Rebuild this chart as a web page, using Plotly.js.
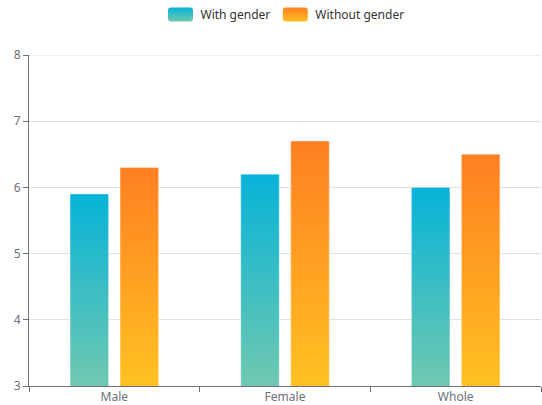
<!DOCTYPE html>
<html>
<head>
<meta charset="utf-8">
<script src="https://cdn.plot.ly/plotly-3.0.1.min.js"></script>
<style>html,body{margin:0;padding:0;background:#fff;}#chart{width:542px;height:405px;}</style>
</head>
<body>
<div id="chart"></div>
<script>
var categories = ["Male", "Female", "Whole"];
var withGender = [5.9, 6.2, 6.0];
var withoutGender = [6.3, 6.7, 6.5];
var seriesNames = ["With gender", "Without gender"];
var yTicks = [3, 4, 5, 6, 7, 8];
var yMax = 8;

var gradients = [
  {top: "#06b3d8", bottom: "#70c8b0", solid: "#3bbdc4"},
  {top: "#ff7f22", bottom: "#ffc122", solid: "#ffa023"}
];

var traces = [
  {type: "bar", name: seriesNames[0], x: categories, y: withGender,
   marker: {color: gradients[0].solid, line: {width: 0}}, hoverinfo: "none"},
  {type: "bar", name: seriesNames[1], x: categories, y: withoutGender,
   marker: {color: gradients[1].solid, line: {width: 0}}, hoverinfo: "none"}
];

var layout = {
  width: 542, height: 405,
  margin: {l: 29, r: 1, t: 55, b: 19, pad: 0},
  paper_bgcolor: "#fff", plot_bgcolor: "#fff",
  font: {family: "Noto Sans, Open Sans, sans-serif", size: 12, color: "#6e7079"},
  barmode: "group", bargap: 0.414, bargroupgap: 0.23,
  showlegend: true,
  legend: {orientation: "h", x: 0.5, xanchor: "center", y: 1, yref: "container", yanchor: "top",
           font: {size: 12, color: "#333"}, itemwidth: 30, traceorder: "normal"},
  xaxis: {type: "category", tickson: "boundaries", ticks: "outside", ticklen: 5, tickcolor: "#6e7079",
          showline: true, linecolor: "#6e7079", linewidth: 1, showgrid: false, zeroline: false,
          tickfont: {size: 12, color: "#6e7079"}, fixedrange: true},
  yaxis: {range: [3, yMax], tickvals: yTicks, ticks: "outside", ticklen: 5, tickcolor: "#6e7079",
          showline: true, linecolor: "#6e7079", linewidth: 1, gridcolor: "#e0e0e0", zeroline: false,
          tickfont: {size: 12, color: "#6e7079"}, fixedrange: true},
  shapes: [{type: "line", xref: "paper", x0: 0, x1: 1, yref: "y", y0: yMax, y1: yMax,
            line: {color: "#e0e0e0", width: 1}, layer: "below"}]
};

function applyGradients(gd) {
  var svg = gd.querySelector(".main-svg");
  var ns = "http://www.w3.org/2000/svg";
  var defs = svg.querySelector("defs");
  var plotH = gd._fullLayout.yaxis._length;
  var count = 0;
  function makeGrad(idx, units, y1, y2) {
    var g = document.createElementNS(ns, "linearGradient");
    var id = "grad" + (count++);
    g.setAttribute("id", id);
    g.setAttribute("x1", "0"); g.setAttribute("x2", "0");
    if (units) {
      g.setAttribute("gradientUnits", "userSpaceOnUse");
      g.setAttribute("y1", y1); g.setAttribute("y2", y2);
    } else {
      g.setAttribute("y1", "0"); g.setAttribute("y2", "1");
    }
    var s1 = document.createElementNS(ns, "stop");
    s1.setAttribute("offset", "0"); s1.setAttribute("stop-color", gradients[idx].top);
    var s2 = document.createElementNS(ns, "stop");
    s2.setAttribute("offset", "1"); s2.setAttribute("stop-color", gradients[idx].bottom);
    g.appendChild(s1); g.appendChild(s2);
    defs.appendChild(g);
    return id;
  }
  var traceGroups = gd.querySelectorAll(".barlayer .trace");
  traceGroups.forEach(function (tg, ti) {
    tg.querySelectorAll("path").forEach(function (p) {
      var bb = p.getBBox();
      var bottom = Math.min(bb.y + bb.height, plotH);
      var id = makeGrad(ti, true, bb.y, bottom);
      p.style.fill = "url(#" + id + ")";
      p.style.stroke = "rgba(255,255,255,0.35)";
      p.style.strokeWidth = "1px";
    });
  });
  var legendTraces = gd.querySelectorAll(".legend .traces");
  legendTraces.forEach(function (lt, li) {
    lt.querySelectorAll(".legendpoints path").forEach(function (p) {
      var id = makeGrad(li, false);
      p.setAttribute("d", "M-9.5,-7H9.5A3,3 0 0 1 12.5,-4V4A3,3 0 0 1 9.5,7H-9.5A3,3 0 0 1 -12.5,4V-4A3,3 0 0 1 -9.5,-7Z");
      p.style.fill = "url(#" + id + ")";
      p.style.stroke = "none";
    });
  });
}

Plotly.newPlot("chart", traces, layout, {displayModeBar: false, staticPlot: true}).then(function (gd) {
  applyGradients(gd);
});
</script>
</body>
</html>
